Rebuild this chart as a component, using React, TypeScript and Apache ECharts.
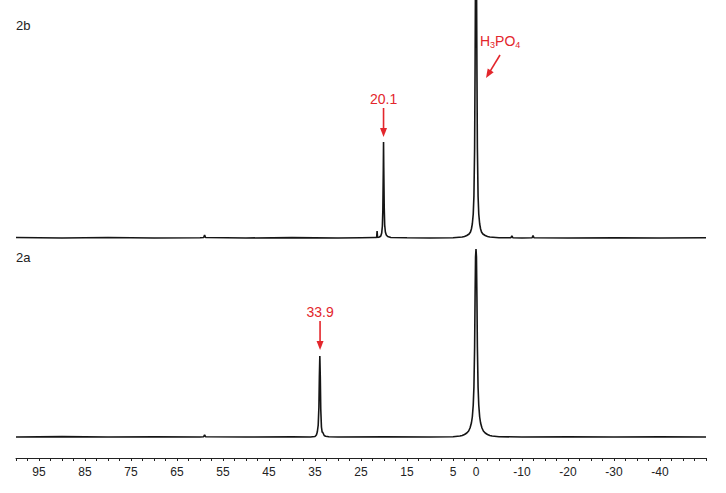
import React, { useEffect, useRef } from "react";
import * as echarts from "echarts";

// ppm positions (x) and intensities (y)
const spectrum2b: [number, number][] = [
  [100, 0.5], [90, 0], [80, 0.5], [70, 0], [60, 0.3], [59.2, 0.5], [59, 3], [58.8, 0.5],
  [50, 0], [40, 0.4], [30, 0], [25, 0.3], [22, 0.5], [21.6, 0.5], [21.5, 7], [21.4, 0.5],
  [21.0, 1], [20.7, 2], [20.5, 5], [20.35, 12], [20.25, 28], [20.15, 68], [20.1, 96],
  [20.05, 70], [19.95, 30], [19.85, 13], [19.7, 6], [19.5, 3], [19.2, 1.5], [18.5, 0.5],
  [15, 0.2], [10, 0], [5, 0.3], [3, 1], [2.5, 1.5], [2.0, 2.5], [1.5, 4], [1.2, 6], [1.0, 9],
  [0.8, 14], [0.6, 24], [0.45, 42], [0.3, 90], [0.2, 170], [0.1, 270], [0, 320],
  [-0.1, 270], [-0.2, 170], [-0.3, 90], [-0.45, 42], [-0.6, 24], [-0.8, 14], [-1.0, 9],
  [-1.2, 6], [-1.5, 4], [-2.0, 2.5], [-2.5, 1.5], [-3, 1], [-5, 0.3], [-7.6, 0.3],
  [-7.8, 2], [-8.0, 0.3], [-10, 0], [-12.2, 0.3], [-12.4, 2.5], [-12.6, 0.3], [-20, 0],
  [-30, 0.3], [-40, 0], [-50, 0.3],
];

const spectrum2a: [number, number][] = [
  [100, 0], [90, 0.4], [80, 0], [70, 0.3], [60, 0], [59.2, 0.3], [59, 2], [58.8, 0.3],
  [50, 0], [40, 0.3], [36, 0], [35, 0.5], [34.7, 2], [34.5, 5], [34.3, 12], [34.15, 30],
  [34.05, 60], [33.95, 81], [33.85, 60], [33.75, 28], [33.6, 10], [33.45, 5], [33.3, 4.5],
  [33.2, 4], [33.0, 1.5], [32.7, 0.8], [32, 0.3], [30, 0], [20, 0.3], [10, 0], [5, 0.3],
  [3.5, 1], [3, 1.5], [2.5, 2.5], [2, 4], [1.6, 6], [1.3, 9], [1.0, 14], [0.8, 20],
  [0.6, 32], [0.45, 50], [0.3, 90], [0.2, 140], [0.1, 180], [0, 188], [-0.1, 180],
  [-0.2, 140], [-0.3, 90], [-0.45, 50], [-0.6, 32], [-0.8, 20], [-1.0, 14], [-1.3, 9],
  [-1.6, 6], [-2, 4], [-2.5, 2.5], [-3, 1.5], [-3.5, 1], [-5, 0.3], [-10, 0], [-20, 0.3],
  [-30, 0], [-40, 0.3], [-50, 0],
];

const tickLabels = [95, 85, 75, 65, 55, 45, 35, 25, 15, 5, 0, -10, -20, -30, -40];
const panelLabels = ["2b", "2a"];
const peak2b: [number, number] = [20.1, 96];
const peak2a: [number, number] = [33.9, 81];
const refPeak: [number, number] = [0, 0];
const peakTexts = ["20.1", "33.9"];

const RED = "#e3262c";
const FONT = "Liberation Sans, Arial, sans-serif";

export default function App() {
  const ref = useRef<HTMLDivElement>(null);
  useEffect(() => {
    const chart = echarts.init(ref.current!, null, { renderer: "svg" });
    const xCommon = {
      type: "value" as const,
      min: -50,
      max: 100,
      inverse: true,
      interval: 2.5,
      splitLine: { show: false },
    };
    chart.setOption({
      animation: false,
      backgroundColor: "#ffffff",
      grid: [
        { left: 16, right: 20, top: 0, height: 244, outerBoundsMode: "none" },
        { left: 16, right: 20, top: 247, height: 211, outerBoundsMode: "none" },
      ],
      xAxis: [
        { ...xCommon, gridIndex: 0, show: false },
        {
          ...xCommon,
          gridIndex: 1,
          position: "bottom",
          axisLine: { show: true, onZero: false, lineStyle: { color: "#222", width: 1 } },
          axisTick: { show: true, length: 3, lineStyle: { color: "#222", width: 1 } },
          axisLabel: {
            fontSize: 12,
            color: "#222",
            margin: 8,
            fontFamily: FONT,
            formatter: (v: number) => {
              const r = Math.round(v * 10) / 10;
              return tickLabels.includes(r) ? String(r) : "";
            },
          },
        },
      ],
      yAxis: [
        { type: "value", gridIndex: 0, min: -6, max: 238, show: false, splitLine: { show: false } },
        { type: "value", gridIndex: 1, min: -21, max: 190, show: false, splitLine: { show: false } },
      ],
      series: [
        {
          type: "line",
          xAxisIndex: 0,
          yAxisIndex: 0,
          data: spectrum2b,
          symbol: "none",
          lineStyle: { color: "#151515", width: 1.6 },
          clip: true,
        },
        {
          type: "line",
          xAxisIndex: 1,
          yAxisIndex: 1,
          data: spectrum2a,
          symbol: "none",
          lineStyle: { color: "#151515", width: 1.6 },
          clip: true,
        },
      ],
    });

    const px = (grid: number, p: [number, number]) =>
      chart.convertToPixel({ gridIndex: grid }, p) as number[];

    const vArrow = (x: number, y0: number, y1: number) => [
      { type: "line", shape: { x1: x, y1: y0, x2: x, y2: y1 - 6 }, style: { stroke: RED, lineWidth: 1.6 } },
      {
        type: "polygon",
        shape: { points: [[x - 3.5, y1 - 9], [x + 3.5, y1 - 9], [x, y1]] },
        style: { fill: RED },
      },
    ];
    const dArrow = (x0: number, y0: number, x1: number, y1: number) => {
      const dx = x1 - x0, dy = y1 - y0;
      const len = Math.hypot(dx, dy);
      const ux = dx / len, uy = dy / len;
      const bx = x1 - 9 * ux, by = y1 - 9 * uy;
      const pxv = -uy * 3.5, pyv = ux * 3.5;
      return [
        { type: "line", shape: { x1: x0, y1: y0, x2: x1 - 6 * ux, y2: y1 - 6 * uy }, style: { stroke: RED, lineWidth: 1.6 } },
        { type: "polygon", shape: { points: [[bx + pxv, by + pyv], [bx - pxv, by - pyv], [x1, y1]] }, style: { fill: RED } },
      ];
    };

    const pb = px(0, peak2b);
    const pa = px(1, peak2a);
    const p0 = px(0, refPeak);
    const base2b = px(0, [100, 0]);
    const base2a = px(1, [100, 0]);

    chart.setOption({
      graphic: [
        { type: "text", x: 16, y: 19, style: { text: panelLabels[0], fontSize: 13, fill: "#222", fontFamily: FONT } },
        { type: "text", x: 16, y: base2a[1] - 186, style: { text: panelLabels[1], fontSize: 13, fill: "#222", fontFamily: FONT } },
        {
          type: "text",
          x: pb[0],
          y: pb[1] - 43,
          style: { text: peakTexts[0], fontSize: 14, fill: RED, fontFamily: FONT, align: "center", verticalAlign: "middle" },
        },
        ...vArrow(pb[0], pb[1] - 34, pb[1] - 5),
        {
          type: "text",
          x: pa[0],
          y: pa[1] - 44,
          style: { text: peakTexts[1], fontSize: 14, fill: RED, fontFamily: FONT, align: "center", verticalAlign: "middle" },
        },
        ...vArrow(pa[0], pa[1] - 35, pa[1] - 6),
        {
          type: "text",
          x: p0[0] + 4,
          y: 32,
          style: {
            text: "H{s|3}PO{s|4}",
            fontSize: 14,
            fill: RED,
            fontFamily: FONT,
            rich: {
              s: { fontSize: 9, fill: RED, fontFamily: FONT, padding: [8, 0, 0, 0] },
            },
          },
        },
        ...dArrow(p0[0] + 24, 55, p0[0] + 10, base2b[1] - 160),
      ],
    });
    return () => chart.dispose();
  }, []);
  return (
    <div
      ref={ref}
      style={{ position: "fixed", left: 0, top: 0, width: 726, height: 493, background: "#fff" }}
    />
  );
}
